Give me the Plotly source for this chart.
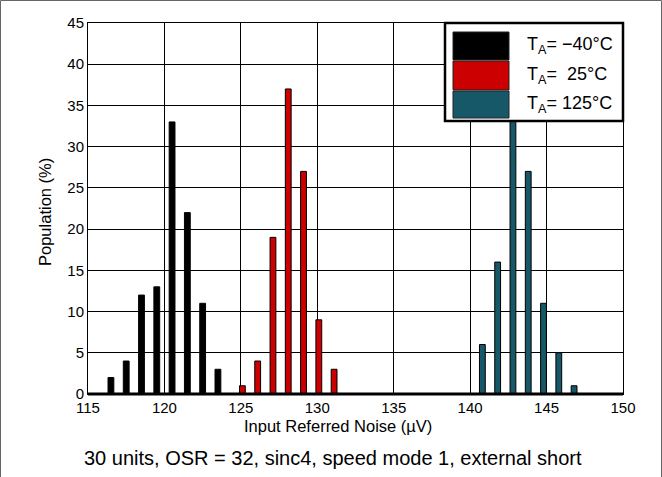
import plotly.graph_objects as go

# Data
noise_m40 = [116.5, 117.5, 118.5, 119.5, 120.5, 121.5, 122.5, 123.5]
pop_m40 = [2, 4, 12, 13, 33, 22, 11, 3]
noise_25 = [125.1, 126.1, 127.1, 128.1, 129.1, 130.1, 131.1]
pop_25 = [1, 4, 19, 37, 27, 9, 3]
noise_125 = [140.8, 141.8, 142.8, 143.8, 144.8, 145.8, 146.8]
pop_125 = [6, 16, 34, 27, 11, 5, 1]
series_labels = ["T<sub>A</sub>= −40°C", "T<sub>A</sub>=  25°C", "T<sub>A</sub>= 125°C"]
x_ticks = [115, 120, 125, 130, 135, 140, 145, 150]
y_ticks = [0, 5, 10, 15, 20, 25, 30, 35, 40, 45]

colors = ["#000000", "#CC0000", "#175868"]

W, H = 662, 477
L, R, T, B = 88, 623, 23, 394


def px(x):
    return (x - L) / (R - L)


def py(y):
    return (B - y) / (B - T)


fig = go.Figure()
for xs, ys, c, name in [(noise_m40, pop_m40, colors[0], series_labels[0]),
                        (noise_25, pop_25, colors[1], series_labels[1]),
                        (noise_125, pop_125, colors[2], series_labels[2])]:
    fig.add_trace(go.Bar(x=xs, y=ys, width=0.38, name=name,
                         marker=dict(color=c, line=dict(color="#000000", width=1)),
                         showlegend=False))

shapes = []
annotations = []
# legend box
shapes.append(dict(type="rect", xref="paper", yref="paper",
                   x0=px(445), x1=px(623), y0=py(121), y1=py(23),
                   fillcolor="white", line=dict(color="black", width=2.5), layer="above"))
sw_rows = [(32, 60), (61, 90), (91, 118)]
for (y0, y1), c, lab in zip(sw_rows, colors, series_labels):
    shapes.append(dict(type="rect", xref="paper", yref="paper",
                       x0=px(453), x1=px(509), y0=py(y1), y1=py(y0),
                       fillcolor=c, line=dict(color="#222222", width=1), layer="above"))
    annotations.append(dict(xref="paper", yref="paper", x=px(525), y=py((y0 + y1) / 2),
                            text=lab, showarrow=False, xanchor="left", yanchor="middle",
                            font=dict(size=18, color="black")))
# outer frame
shapes.append(dict(type="rect", xref="paper", yref="paper",
                   x0=px(0.5), x1=px(661.5), y0=py(520), y1=py(0.5),
                   line=dict(color="#666666", width=1)))
# axis titles
annotations.append(dict(xref="paper", yref="paper", x=px(338), y=py(426),
                        text="Input Referred Noise (µV)", showarrow=False,
                        xanchor="center", yanchor="middle", font=dict(size=16.5, color="black")))
annotations.append(dict(xref="paper", yref="paper", x=px(45), y=py(212),
                        text="Population (%)", showarrow=False, textangle=-90,
                        xanchor="center", yanchor="middle", font=dict(size=16.5, color="black")))
# caption
annotations.append(dict(xref="paper", yref="paper", x=px(333), y=py(458),
                        text="30 units, OSR = 32, sinc4, speed mode 1, external short",
                        showarrow=False, xanchor="center", yanchor="middle",
                        font=dict(size=20, color="black")))

fig.update_layout(
    width=W, height=H,
    margin=dict(l=L, r=W - R, t=T, b=H - B, pad=0),
    paper_bgcolor="white", plot_bgcolor="white",
    font=dict(family="Liberation Sans, Arial, sans-serif", color="black", size=15),
    barmode="overlay",
    shapes=shapes, annotations=annotations,
    xaxis=dict(range=[115, 150], tickvals=x_ticks, ticktext=[str(v) for v in x_ticks],
               showgrid=True, gridcolor="black", gridwidth=1,
               showline=True, linecolor="black", linewidth=1, mirror=True,
               ticks="", zeroline=False, tickfont=dict(size=15)),
    yaxis=dict(range=[0, 45], tickvals=y_ticks, ticktext=[str(v) for v in y_ticks],
               showgrid=True, gridcolor="black", gridwidth=1,
               showline=True, linecolor="black", linewidth=1, mirror=True,
               ticks="", zeroline=False, tickfont=dict(size=15)),
)
# thick bottom axis line
fig.add_shape(type="line", xref="paper", yref="paper", x0=0, x1=1, y0=0, y1=0,
              line=dict(color="black", width=3), layer="above")

fig.write_html("out.html")
